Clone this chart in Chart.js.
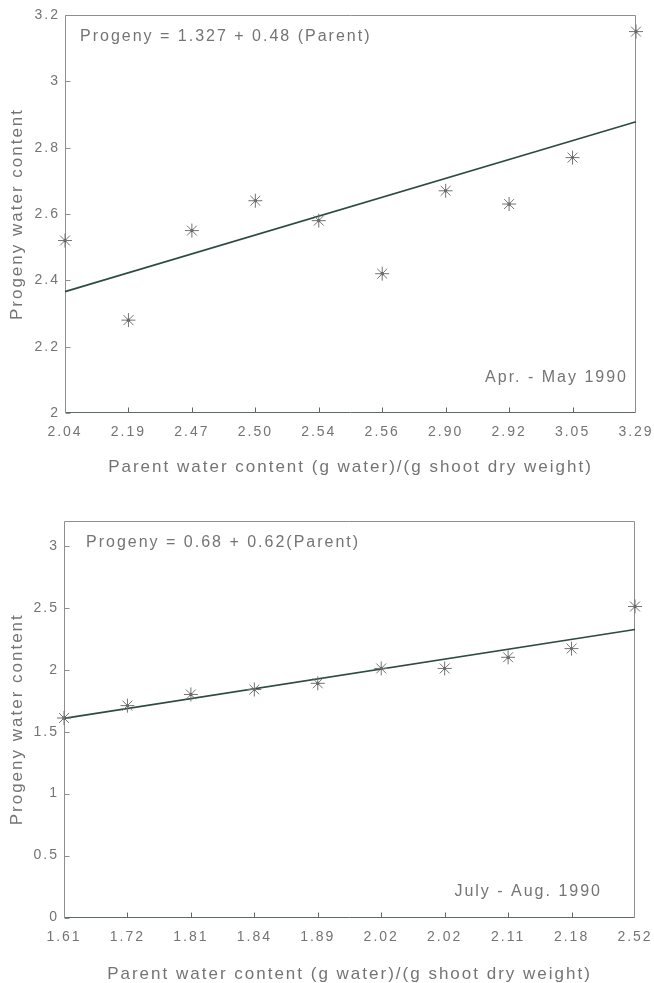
<!DOCTYPE html>
<html>
<head>
<meta charset="utf-8">
<script src="https://cdn.jsdelivr.net/npm/chart.js@4"></script>
<style>
  html, body { margin: 0; padding: 0; background: #ffffff; }
  #wrap { position: relative; width: 654px; height: 983px; }
  .panel { position: absolute; left: 0; width: 654px; }
  #p1 { top: 0; height: 490px; }
  #p2 { top: 490px; height: 493px; }
</style>
</head>
<body>
<div id="wrap">
  <div class="panel" id="p1"><canvas id="c1"></canvas></div>
  <div class="panel" id="p2"><canvas id="c2"></canvas></div>
</div>
<script>
// April - May 1990 sampling
const aprParent = ['2.04', '2.19', '2.47', '2.50', '2.54', '2.56', '2.90', '2.92', '3.05', '3.29'];
const aprProgeny = [2.52, 2.28, 2.55, 2.64, 2.58, 2.42, 2.67, 2.63, 2.77, 3.15];
const aprFitEnds = [2.366, 2.878];
const aprYTicks = [2, 2.2, 2.4, 2.6, 2.8, 3, 3.2];

// July - August 1990 sampling
const julParent = ['1.61', '1.72', '1.81', '1.84', '1.89', '2.02', '2.02', '2.11', '2.18', '2.52'];
const julProgeny = [1.61, 1.71, 1.80, 1.84, 1.89, 2.01, 2.01, 2.10, 2.17, 2.51];
const julFitEnds = [1.607, 2.324];
const julYTicks = [0, 0.5, 1, 1.5, 2, 2.5, 3];

const xTitle = 'Parent water content (g water)/(g shoot dry weight)';
const yTitle = 'Progeny water content';

const TEXT = '#747474';
const FONT = "'Liberation Sans', Arial, Helvetica, sans-serif";

// spaced-out lettering used throughout the figure
const spacing = {
  id: 'spacing',
  beforeUpdate(chart) { chart.ctx.letterSpacing = '2px'; },
  beforeDraw(chart) { chart.ctx.letterSpacing = '2px'; }
};

// plot frame with short inward tick marks
const frame = {
  id: 'frame',
  beforeDatasetsDraw(chart) {
    const { ctx, chartArea: a, scales } = chart;
    const L = Math.round(a.left) + 0.5, R = Math.round(a.right) - 0.5;
    const T = Math.round(a.top) + 0.5, B = Math.round(a.bottom) - 0.5;
    ctx.save();
    ctx.lineWidth = 1;
    ctx.strokeStyle = '#8e8e8e';
    ctx.beginPath();
    ctx.moveTo(L, B); ctx.lineTo(L, T); ctx.lineTo(R, T); ctx.lineTo(R, B);
    ctx.stroke();
    ctx.strokeStyle = '#5e6a65';
    ctx.beginPath();
    ctx.moveTo(L, B); ctx.lineTo(R, B);
    ctx.stroke();
    ctx.strokeStyle = '#8e8e8e';
    ctx.beginPath();
    scales.y.ticks.forEach(t => {
      const py = Math.round(scales.y.getPixelForValue(t.value)) + 0.5;
      ctx.moveTo(L, py); ctx.lineTo(L + 5, py);
    });
    ctx.stroke();
    ctx.strokeStyle = '#5e6a65';
    ctx.beginPath();
    for (let i = 1; i < scales.x.ticks.length - 1; i++) {
      const px = Math.round(scales.x.getPixelForTick(i)) + 0.5;
      ctx.moveTo(px, B); ctx.lineTo(px, B - 5);
    }
    ctx.stroke();
    ctx.restore();
  }
};

// regression equation and sampling period inside the plot
const panelText = {
  id: 'panelText',
  afterDraw(chart, args, opts) {
    const { ctx, chartArea: a } = chart;
    ctx.save();
    ctx.letterSpacing = '2px';
    ctx.fillStyle = TEXT;
    ctx.font = '16px ' + FONT;
    ctx.textBaseline = 'middle';
    ctx.textAlign = 'left';
    ctx.fillText(opts.equation, a.left + opts.eqDx, a.top + opts.eqDy);
    ctx.textAlign = 'right';
    ctx.fillText(opts.period, a.right - opts.periodDx + 2, a.bottom - opts.periodDy);
    ctx.restore();
  }
};

function fitSeries(n, ends) {
  const s = new Array(n).fill(null);
  s[0] = ends[0];
  s[n - 1] = ends[1];
  return s;
}

function makePanel(canvasId, labels, values, fitEnds, yMin, yMax, yTicks, geom, text) {
  return new Chart(document.getElementById(canvasId), {
    type: 'line',
    data: {
      labels: labels,
      datasets: [
        {
          data: values,
          showLine: false,
          pointStyle: 'star',
          pointRadius: 7,
          pointHoverRadius: 7,
          borderColor: '#737373',
          pointBorderWidth: 1,
          borderWidth: 1,
          clip: false
        },
        {
          data: values,
          showLine: false,
          pointStyle: 'circle',
          pointRadius: 1.6,
          pointHoverRadius: 1.6,
          backgroundColor: '#111111',
          borderWidth: 0,
          pointBorderWidth: 0,
          clip: false
        },
        {
          data: fitSeries(labels.length, fitEnds),
          spanGaps: true,
          borderColor: '#2d4b41',
          borderWidth: 1.6,
          pointRadius: 0,
          pointHoverRadius: 0,
          tension: 0
        }
      ]
    },
    options: {
      responsive: true,
      maintainAspectRatio: false,
      animation: false,
      events: [],
      layout: { padding: { left: 0, right: geom.right, top: geom.top, bottom: 0 } },
      plugins: {
        legend: { display: false },
        tooltip: { enabled: false },
        panelText: text
      },
      scales: {
        x: {
          type: 'category',
          offset: false,
          grid: { display: false, drawTicks: false },
          border: { display: false },
          ticks: {
            autoSkip: false,
            maxRotation: 0,
            padding: 11,
            color: TEXT,
            font: { family: FONT, size: 14 }
          },
          title: {
            display: true,
            text: xTitle,
            color: TEXT,
            font: { family: FONT, size: 17, lineHeight: 1 },
            padding: { top: 0, bottom: geom.xTitlePad }
          },
          afterFit(s) {
            s.height = geom.xHeight;
            s.paddingLeft = 0;
            s.paddingRight = 0;
          }
        },
        y: {
          type: 'linear',
          min: yMin,
          max: yMax,
          afterBuildTicks(s) { s.ticks = yTicks.map(v => ({ value: v })); },
          grid: { display: false, drawTicks: false },
          border: { display: false },
          ticks: {
            padding: 5,
            color: TEXT,
            font: { family: FONT, size: 14 },
            callback: v => String(Number(v.toFixed(2)))
          },
          title: {
            display: true,
            text: yTitle,
            color: TEXT,
            font: { family: FONT, size: 17, lineHeight: 1 },
            padding: { top: 9, bottom: 0 }
          },
          afterFit(s) {
            s.width = geom.left;
            s.paddingTop = 0;
            s.paddingBottom = 0;
          }
        }
      }
    },
    plugins: [spacing, frame, panelText]
  });
}

makePanel('c1', aprParent, aprProgeny, aprFitEnds, 2, 3.2, aprYTicks,
  { top: 15, left: 65, right: 18, xHeight: 77, xTitlePad: 14 },
  { equation: 'Progeny = 1.327 + 0.48 (Parent)', period: 'Apr. - May 1990',
    eqDx: 15, eqDy: 22, periodDx: 10, periodDy: 35 });

makePanel('c2', julParent, julProgeny, julFitEnds, 0, 3.2, julYTicks,
  { top: 31, left: 64, right: 19, xHeight: 65.5, xTitlePad: 0 },
  { equation: 'Progeny = 0.68 + 0.62(Parent)', period: 'July - Aug. 1990',
    eqDx: 22, eqDy: 22, periodDx: 35, periodDy: 25.5 });
</script>
</body>
</html>
